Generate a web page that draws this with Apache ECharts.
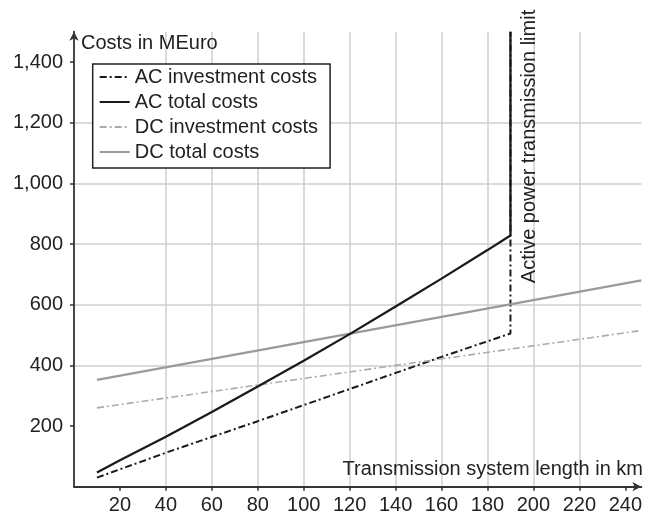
<!DOCTYPE html>
<html>
<head>
<meta charset="utf-8">
<script src="https://cdn.jsdelivr.net/npm/echarts@6/dist/echarts.min.js"></script>
<style>
html,body{margin:0;padding:0;background:#fff;}
#chart{width:645px;height:516px;}
</style>
</head>
<body>
<div id="chart"></div>
<script>
// ---- data ----
const xTicks = [20,40,60,80,100,120,140,160,180,200,220,240];
const yTicks = [200,400,600,800,1000,1200,1400];

const acInvX   = [10, 40, 80, 120, 160, 190, 190];
const acInvY   = [30, 112, 216, 322, 428, 505, 1500];

const acTotX   = [10, 20, 40, 60, 80, 100, 120, 140, 160, 180, 190, 190];
const acTotY   = [47, 87, 165, 246, 330, 415, 503, 594, 686, 780, 828, 1500];

const dcInvX   = [10, 247];
const dcInvY   = [260, 515];

const dcTotX   = [10, 247];
const dcTotY   = [352, 680];

const seriesNames = ['AC investment costs','AC total costs','DC investment costs','DC total costs'];
const yAxisTitle = 'Costs in MEuro';
const xAxisTitle = 'Transmission system length in km';
const limitText = 'Active power transmission limit';

function pairs(xs, ys){ return xs.map((x,i)=>[x, ys[i]]); }

const txt = '#222';
const font = 'Liberation Sans, Arial, Helvetica, sans-serif';

const chart = echarts.init(document.getElementById('chart'), null, {renderer:'canvas'});
chart.setOption({
  animation:false,
  backgroundColor:'#fff',
  textStyle:{fontFamily:font},
  grid:{left:74, right:2.9, top:31.7, bottom:29.3, containLabel:false},
  xAxis:{
    type:'value', min:0, max:247,
    axisLine:{show:true, lineStyle:{color:'#333', width:1.8}, symbol:['none','arrow'], symbolSize:[7,9]},
    axisTick:{show:true, length:4, inside:false, customValues:xTicks, lineStyle:{color:'#333', width:1.5}},
    axisLabel:{show:true, customValues:xTicks, margin:9, color:txt, fontSize:20, fontFamily:font},
    splitLine:{show:true, showMinLine:false, showMaxLine:false, lineStyle:{color:'#cfcfcf', width:1.5}}
  },
  yAxis:{
    type:'value', min:0, max:1500,
    axisLine:{show:true, onZero:false, lineStyle:{color:'#333', width:1.8}, symbol:['none','arrow'], symbolSize:[7,9]},
    axisTick:{show:true, length:4, inside:false, customValues:yTicks, lineStyle:{color:'#333', width:1.5}},
    axisLabel:{show:true, customValues:yTicks, margin:11, color:txt, fontSize:20, fontFamily:font,
      formatter:v=>v.toLocaleString('en-US')},
    splitLine:{show:true, showMinLine:false, showMaxLine:false, lineStyle:{color:'#cfcfcf', width:1.5}}
  },
  legend:{
    left:92.7, top:64, orient:'vertical',
    itemWidth:30, itemHeight:14, itemGap:5,
    padding:[3,12,6,6],
    borderColor:'#222', borderWidth:1.5, backgroundColor:'#fff',
    itemStyle:{opacity:0},
    textStyle:{color:txt, fontSize:20, lineHeight:20, fontFamily:font},
    data:seriesNames
  },
  series:[
    {name:seriesNames[0], type:'line', data:pairs(acInvX, acInvY), symbol:'none', z:3,
     lineStyle:{color:'#1a1a1a', width:2, type:[7,3,2,3]}, itemStyle:{color:'#1a1a1a'}},
    {name:seriesNames[1], type:'line', data:pairs(acTotX, acTotY), symbol:'none', z:4,
     lineStyle:{color:'#1a1a1a', width:2.3, type:'solid'}, itemStyle:{color:'#1a1a1a'}},
    {name:seriesNames[2], type:'line', data:pairs(dcInvX, dcInvY), symbol:'none', z:3,
     lineStyle:{color:'#ababab', width:1.6, type:[7,3,2,3]}, itemStyle:{color:'#ababab'}},
    {name:seriesNames[3], type:'line', data:pairs(dcTotX, dcTotY), symbol:'none', z:3,
     lineStyle:{color:'#9a9a9a', width:2.3, type:'solid'}, itemStyle:{color:'#9a9a9a'}}
  ],
  graphic:[
    {type:'text', x:81, y:43, z:10, style:{text:yAxisTitle, fill:txt, font:'20px '+font, align:'left', verticalAlign:'middle'}},
    {type:'text', x:643, y:469, z:10, style:{text:xAxisTitle, fill:txt, font:'20px '+font, align:'right', verticalAlign:'middle'}},
    {type:'text', x:529, y:146.5, rotation:Math.PI/2, z:10, style:{text:limitText, fill:txt, font:'20px '+font, align:'center', verticalAlign:'middle'}}
  ]
});
</script>
</body>
</html>
